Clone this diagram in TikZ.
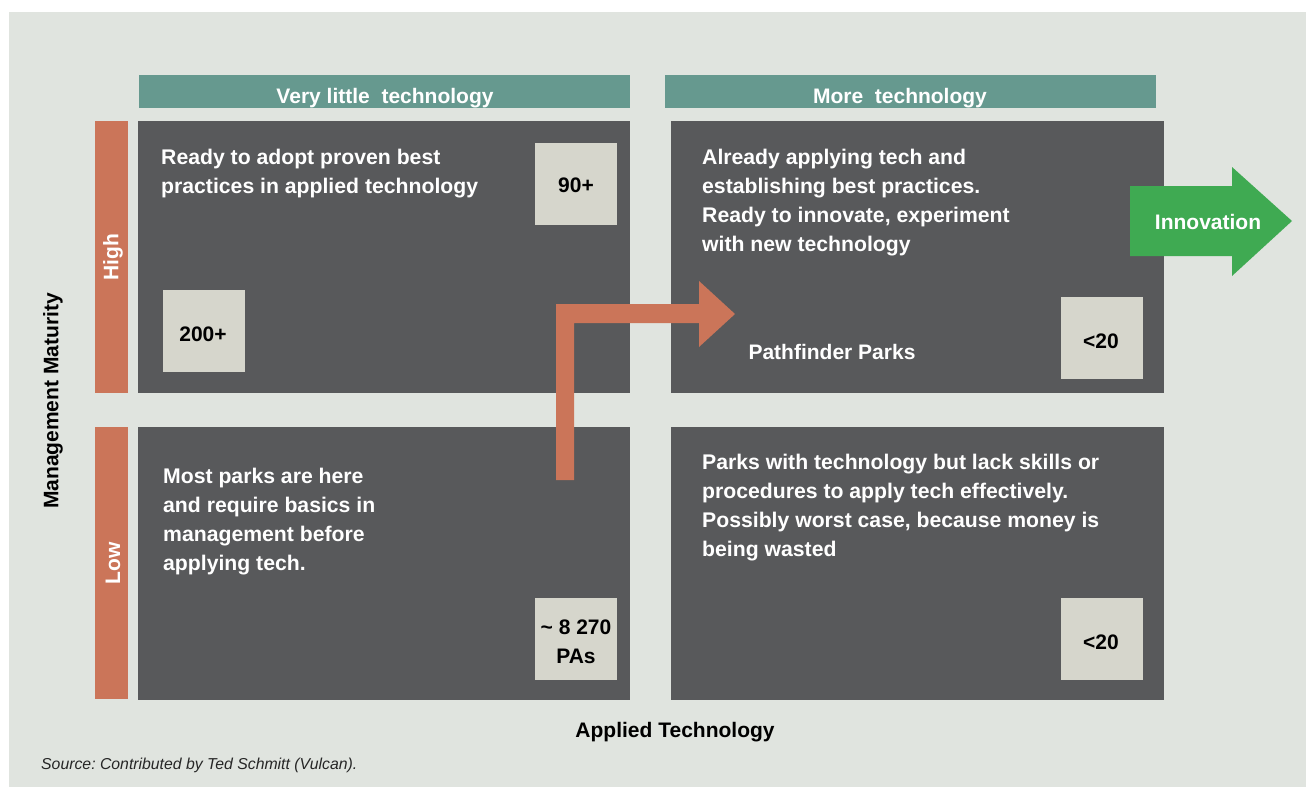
\documentclass[tikz,border=0pt]{standalone}
\usepackage{fontspec}
\setmainfont{Liberation Sans}
\frenchspacing
\definecolor{bgc}{HTML}{E0E4DF}
\definecolor{darkc}{HTML}{58595B}
\definecolor{tealc}{HTML}{66998F}
\definecolor{orangec}{HTML}{CB7559}
\definecolor{greenc}{HTML}{3FAA52}
\definecolor{numc}{HTML}{D6D6CC}
\tikzset{
  darkbox/.style={fill=darkc, draw=none, anchor=north west, inner sep=0, minimum width=492pt, minimum height=272pt},
  hdr/.style={fill=tealc, draw=none, anchor=north west, inner sep=0, minimum width=491pt, minimum height=33pt},
  sidebar/.style={fill=orangec, draw=none, anchor=north west, inner sep=0, minimum width=33pt, minimum height=272pt},
  numbox/.style={fill=numc, draw=none, anchor=north west, inner sep=0, minimum width=82pt, minimum height=82pt},
  hdrtext/.style={text=white, font=\bfseries\fontsize{21}{25}\selectfont, inner sep=0},
  bodytext/.style={text=white, font=\bfseries\fontsize{21.2}{29}\selectfont, align=left, anchor=north west, inner sep=0},
  numtext/.style={text=black, font=\bfseries\fontsize{21}{29}\selectfont, align=center, inner sep=0},
  sidetext/.style={text=white, font=\bfseries\fontsize{21}{25}\selectfont, rotate=90, inner sep=0},
  axistext/.style={text=black, font=\bfseries\fontsize{21}{25}\selectfont, inner sep=0},
}
\begin{document}
\begin{tikzpicture}[x=1pt, y=-1pt]
\useasboundingbox (0,0) rectangle (1306,787);
\fill[bgc] (9,12) rectangle (1306,787);
% headers
\node[hdr] (h1) at (139,75) {};
\node[hdr] (h2) at (665,75) {};
\node[hdrtext] at (385,98) {Very little\ \ technology};
\node[hdrtext] at (900,98) {More\ \ technology};
% side bars
\node[sidebar] (sh) at (95,121) {};
\node[sidebar, minimum height=272pt] (sl) at (95,427) {};
\node[sidetext] (lhigh) at (113,257) {High};
\node[sidetext] (llow) at (113,563) {Low};
% quadrants
\node[darkbox] (tl) at (138,121) {};
\node[darkbox, minimum height=273pt] (bl) at (138,427) {};
\node[darkbox, minimum width=493pt] (tr) at (671,121) {};
\node[darkbox, minimum width=493pt, minimum height=273pt] (br) at (671,427) {};
% number boxes
\node[numbox] (n90) at (535,143) {};
\node[numtext] at (576,185) {90+};
\node[numbox] (n200) at (163,290) {};
\node[numtext] at (203,334) {200+};
\node[numbox] (n20a) at (1061,297) {};
\node[numtext] at (1101,341) {<20};
\node[numbox] (n20b) at (1061,598) {};
\node[numtext] at (1101,642) {<20};
\node[numbox] (n8270) at (535,598) {};
\node[numtext] at (576,642) {\textasciitilde{} 8 270\\PAs};
% texts
\node[bodytext] (ttl) at (161,149) {Ready to adopt proven best\\practices in applied technology};
\node[bodytext] (ttr) at (702,149) {Already applying tech and\\establishing best practices.\\Ready to innovate, experiment\\with new technology};
\node[bodytext] (tbl) at (163,468) {Most parks are here\\and require basics in\\management before\\applying tech.};
\node[bodytext] (tbr) at (702,454) {Parks with technology but lack skills or\\procedures to apply tech effectively.\\Possibly worst case, because money is\\being wasted};
\node[text=white, font=\bfseries\fontsize{21}{25}\selectfont, inner sep=0] (path) at (832,352) {Pathfinder Parks};
% orange arrow
\fill[orangec] (556,480) -- (556,304) -- (699,304) -- (699,281) -- (735,314) -- (699,347) -- (699,323) -- (574,323) -- (574,480) -- cycle;
% green arrow
\fill[greenc] (1130,186) -- (1232,186) -- (1232,167) -- (1292,221) -- (1232,276) -- (1232,256) -- (1130,256) -- cycle;
\node[text=white, font=\bfseries\fontsize{21}{25}\selectfont, inner sep=0] (inno) at (1208,222) {Innovation};
% axes
\node[axistext] (ax) at (675,732) {Applied Technology};
\node[axistext, rotate=90] (ay) at (53,401) {Management Maturity};
\node[text=black!85, font=\itshape\fontsize{15.8}{18}\selectfont, anchor=west, inner sep=0] (src) at (41,765) {Source: Contributed by Ted Schmitt (Vulcan).};
\end{tikzpicture}
\end{document}
